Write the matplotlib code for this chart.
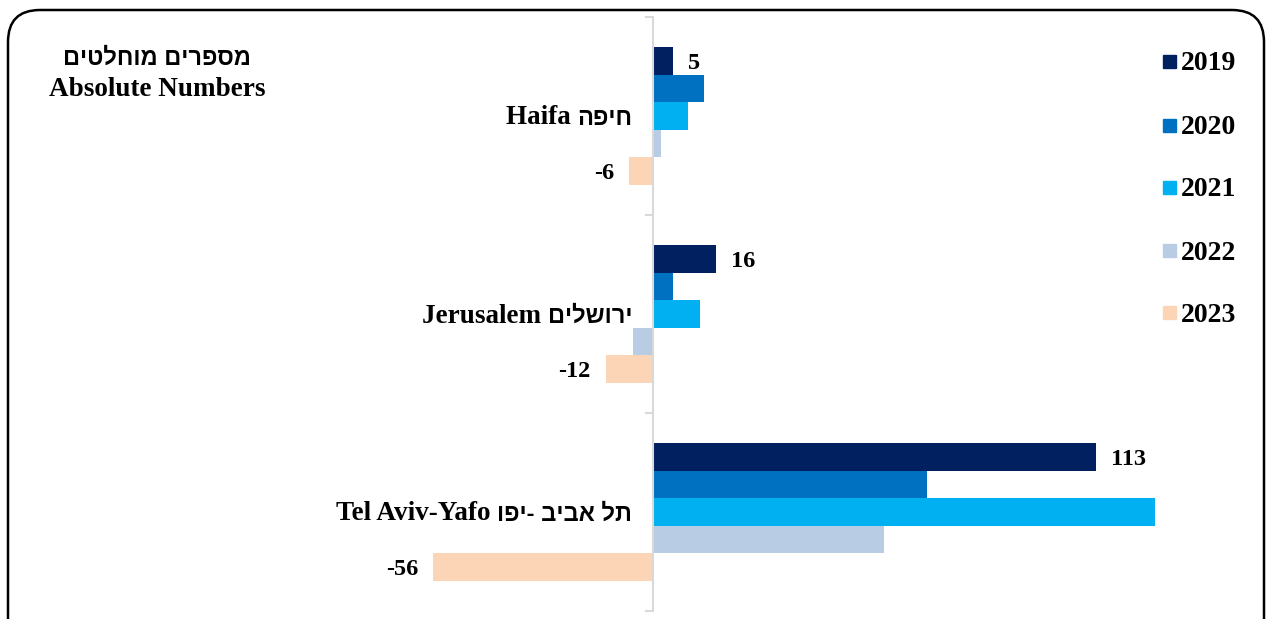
import numpy as np
import matplotlib.pyplot as plt
from matplotlib.patches import FancyBboxPatch, Rectangle
from matplotlib.transforms import IdentityTransform, blended_transform_factory, offset_copy

plt.rcParams['font.family'] = ['Liberation Serif', 'DejaVu Sans']
plt.rcParams['font.weight'] = 'bold'
HEB = ['Liberation Sans', 'DejaVu Sans']

# data
cities_en = ['Haifa', 'Jerusalem', 'Tel Aviv-Yafo']
cities_he = ['חיפה', 'ירושלים', 'תל אביב -יפו']
years = ['2019', '2020', '2021', '2022', '2023']
colors = ['#002060', '#0070C0', '#00B0F0', '#B8CCE4', '#FBD5B5']
v2019 = [5, 16, 113]
v2020 = [13, 5, 70]
v2021 = [9, 12, 128]
v2022 = [2, -5, 59]
v2023 = [-6, -12, -56]
series = [v2019, v2020, v2021, v2022, v2023]
labelled = ['2019', '2023']

W, H = 1272, 619
fig = plt.figure(figsize=(W / 100, H / 100), dpi=100)

# axes placed so that 0 sits at x=653px
px_unit = 443 / 113
x0, x1 = 300, 1200
ax = fig.add_axes([x0 / W, (H - 611) / H, (x1 - x0) / W, 594 / H])
ax.set_xlim(-(653 - x0) / px_unit, (x1 - 653) / px_unit)
ax.set_ylim(2.5, -0.5)

y = np.arange(len(cities_en))
h = 0.139
for i, (yr, vals, c) in enumerate(zip(years, series, colors)):
    pos = y + (i - 2) * h
    ax.barh(pos, vals, height=h, color=c, edgecolor='none')
    if yr in labelled:
        for p, v in zip(pos, vals):
            ax.annotate(str(v), (v, p), xytext=(11 if v > 0 else -11, 0),
                        textcoords='offset points', va='center_baseline',
                        ha='left' if v > 0 else 'right', fontsize=17.5,
                        fontweight='bold')

for s in ['top', 'right', 'bottom']:
    ax.spines[s].set_visible(False)
ax.spines['left'].set_position(('data', 0))
ax.spines['left'].set_color('#D9D9D9')
ax.spines['left'].set_linewidth(1.5)
ax.set_xticks([])
ax.set_yticks([-0.5, 0.5, 1.5, 2.5])
ax.set_yticklabels([])
ax.tick_params(axis='y', which='major', length=6, width=1.5, color='#D9D9D9', direction='out')

# category labels: Hebrew part on the right, English part to its left
tr = offset_copy(blended_transform_factory(ax.transData, ax.transData), fig=fig,
                 x=-21, y=-2, units='dots')
for yy, en, he in zip(y, cities_en, cities_he):
    t = ax.text(0, yy, he[::-1], transform=tr, ha='right', va='center',
                fontsize=17, fontweight='bold', family=HEB)
    ax.annotate(en + ' ', (0, 0.5), xycoords=t, ha='right', va='center',
                fontsize=19.5, fontweight='bold')

# title
fig.text(157 / W, 1 - 58 / H, 'מספרים מוחלטים'[::-1], ha='center', va='center',
         fontsize=17, fontweight='bold', family=HEB)
fig.text(157 / W, 1 - 90 / H, 'Absolute Numbers', ha='center', va='center',
         fontsize=19.5, fontweight='bold')

# legend
ly = [61, 125, 187, 250, 312]
for yr, c, yy in zip(years, colors, ly):
    fig.patches.append(Rectangle((1163, H - yy - 6.5), 13, 13, color=c,
                                 transform=IdentityTransform(), figure=fig))
    fig.text(1181 / W, 1 - yy / H, yr, ha='left', va='center_baseline', fontsize=20,
             fontweight='bold')

# rounded frame
frame = FancyBboxPatch((8, -40), 1256, H - 10 + 40, boxstyle='round,pad=0,rounding_size=32',
                       fill=False, edgecolor='black', linewidth=1.8,
                       transform=IdentityTransform(), figure=fig)
fig.patches.append(frame)

fig.savefig('out.png', dpi=100)
